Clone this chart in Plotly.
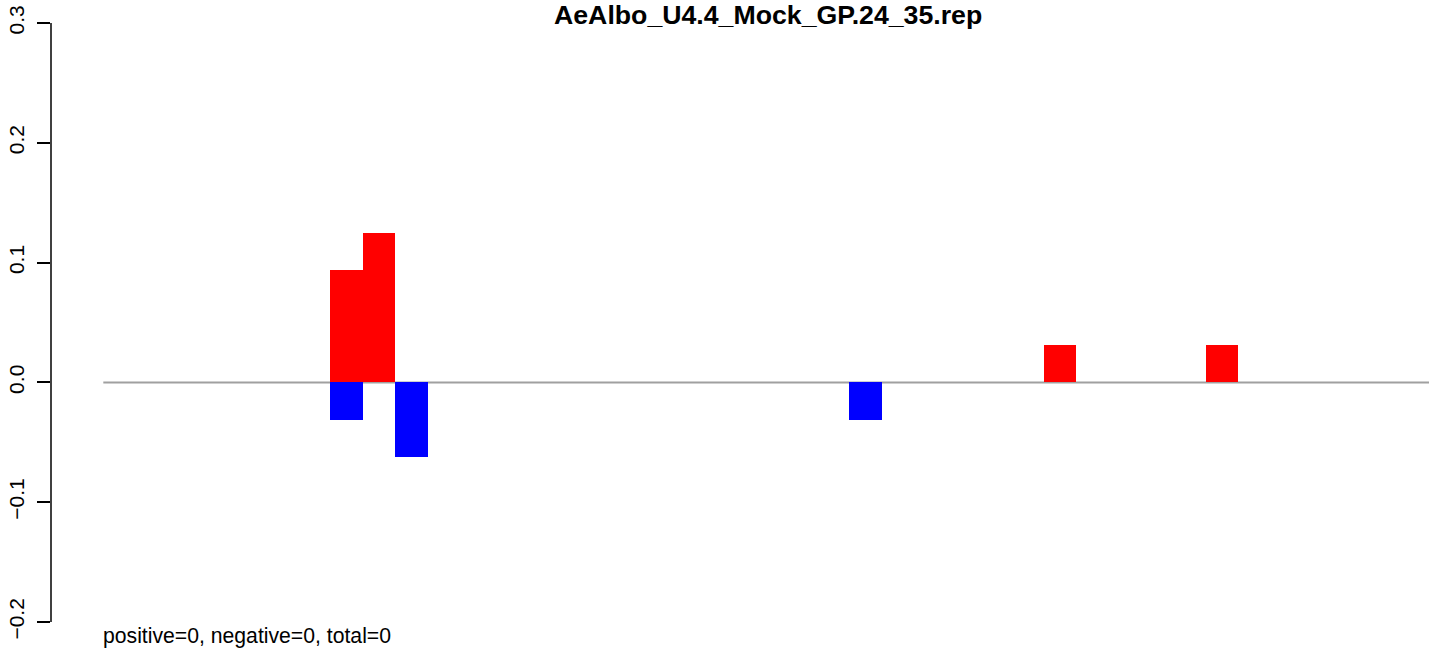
import plotly.graph_objects as go

# ---- data ----
n_bins = 41
bin_index = list(range(n_bins))
positive_vals = [0.0] * n_bins
negative_vals = [0.0] * n_bins
positive_vals[7] = 0.09375
positive_vals[8] = 0.125
positive_vals[29] = 0.03125
positive_vals[34] = 0.03125
negative_vals[7] = -0.03125
negative_vals[9] = -0.0625
negative_vals[23] = -0.03125

y_ticks = [-0.2, -0.1, 0.0, 0.1, 0.2, 0.3]
y_tick_labels = ["\u22120.2", "\u22120.1", "0.0", "0.1", "0.2", "0.3"]
title_text = "AeAlbo_U4.4_Mock_GP.24_35.rep"
note_text = "positive=0, negative=0, total=0"

FONT = "Liberation Sans, Arial, Helvetica, sans-serif"

centers = [i + 0.5 for i in bin_index]

fig = go.Figure()
fig.add_trace(go.Bar(x=centers, y=positive_vals, width=1.0,
                     marker=dict(color="#FF0000", line=dict(width=0)),
                     hoverinfo="skip"))
fig.add_trace(go.Bar(x=centers, y=negative_vals, width=1.0,
                     marker=dict(color="#0000FF", line=dict(width=0)),
                     hoverinfo="skip"))

# baseline at zero
fig.add_shape(type="line", xref="x", yref="y", x0=0, x1=n_bins, y0=0, y1=0,
              line=dict(color="#a0a0a0", width=2), layer="below")
# y axis line spanning tick range (R style)
fig.add_shape(type="line", xref="paper", yref="y", x0=0, x1=0,
              y0=min(y_ticks), y1=max(y_ticks),
              line=dict(color="black", width=1.5))

fig.add_annotation(text="<b>" + title_text + "</b>", xref="paper", yref="paper",
                   x=0.52, y=1, xanchor="center", yanchor="top", yshift=2,
                   showarrow=False, font=dict(family=FONT, size=26.7, color="black"))
fig.add_annotation(text=note_text, xref="x", yref="paper", x=0, y=0,
                   xanchor="left", yanchor="middle", yshift=10, xshift=-2,
                   showarrow=False, font=dict(family=FONT, size=21.2, color="black"))

fig.update_layout(
    width=1429, height=649,
    margin=dict(l=51, r=0, t=0, b=3, autoexpand=False),
    paper_bgcolor="white", plot_bgcolor="white",
    barmode="overlay", bargap=0, showlegend=False,
    xaxis=dict(range=[-1.613, 40.88], visible=False, fixedrange=True,
               automargin=False),
    yaxis=dict(range=[-0.22, 0.3192], tickvals=y_ticks, ticktext=y_tick_labels,
               tickangle=-90, ticks="outside", ticklen=13, tickwidth=1.5,
               tickcolor="black", showgrid=False, zeroline=False, showline=False,
               automargin=False, ticklabelstandoff=5,
               tickfont=dict(family=FONT, size=21, color="black")),
)

fig.write_html("out.html", config={"displayModeBar": False},
               post_script="document.body.style.margin='0';document.body.style.padding='0';")
